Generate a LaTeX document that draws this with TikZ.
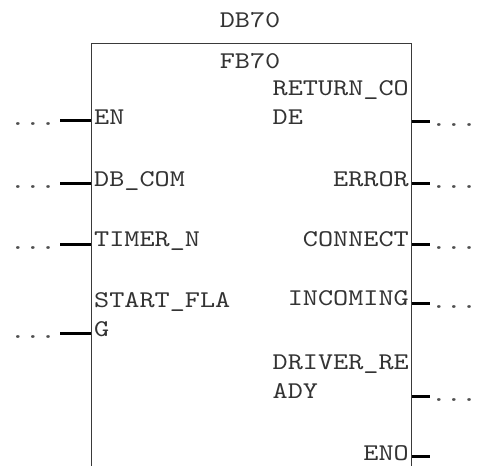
\documentclass[tikz,border=0pt]{standalone}
\usepackage{fontspec}
\setmonofont[FakeStretch=1.2]{lmmono10-regular.otf}
\usepackage{tikz}
\usetikzlibrary{positioning}
\definecolor{BoxGray}{HTML}{3A3A3A}
\definecolor{DotGray}{HTML}{505050}
\begin{document}
\begin{tikzpicture}[x=1pt,y=-1pt,
font=\ttfamily\fontsize{24}{29}\selectfont,
fbbox/.style={draw=BoxGray,line width=1.3pt,minimum width=320pt,minimum height=480pt,inner sep=0pt},
lbl/.style={inner sep=0pt,text=black!80},
wire/.style={line width=3pt,black},
dots/.style={inner sep=0pt,text=DotGray,anchor=base}]
\useasboundingbox (0,0) rectangle (477,466);
\clip (0,0) rectangle (477,466);
\node[fbbox,anchor=north west] (fb) at (91,43) {};
\node[lbl,anchor=base] (db) at (250,27) {DB70};
\node[lbl,anchor=base] (fbname) at (250,68) {FB70};
% inputs
\node[lbl,anchor=base west] (en) at (94,124) {EN};
\node[lbl,anchor=base west] (dbcom) at (94,186) {DB\_COM};
\node[lbl,anchor=base west] (timer) at (94,246) {TIMER\_N};
\node[lbl,anchor=base west,align=left] (start) at (94,336) {START\_FLA\\G};
\coordinate (en-in) at (60,120);
\coordinate (dbcom-in) at (60,183);
\coordinate (timer-in) at (60,244);
\coordinate (start-in) at (60,333);
\node[dots] (en-d) at (33,125) {...};
\node[dots] (dbcom-d) at (33,188) {...};
\node[dots] (timer-d) at (33,249) {...};
\node[dots] (start-d) at (33,338) {...};
\draw[wire] (en-in) -- (en-in -| fb.west);
\draw[wire] (dbcom-in) -- (dbcom-in -| fb.west);
\draw[wire] (timer-in) -- (timer-in -| fb.west);
\draw[wire] (start-in) -- (start-in -| fb.west);
% outputs
\node[lbl,anchor=base east,align=left] (ret) at (409,124) {RETURN\_CO\\DE};
\node[lbl,anchor=base east] (error) at (409,186) {ERROR};
\node[lbl,anchor=base east] (connect) at (409,246) {CONNECT};
\node[lbl,anchor=base east] (incoming) at (409,305) {INCOMING};
\node[lbl,anchor=base east,align=left] (driver) at (409,398) {DRIVER\_RE\\ADY};
\node[lbl,anchor=base east] (eno) at (409,460) {ENO};
\coordinate (ret-out) at (430,121);
\coordinate (error-out) at (430,183);
\coordinate (connect-out) at (430,244);
\coordinate (incoming-out) at (430,303);
\coordinate (driver-out) at (430,396);
\coordinate (eno-out) at (430,456);
\node[dots] (ret-d) at (454,126) {...};
\node[dots] (error-d) at (454,188) {...};
\node[dots] (connect-d) at (454,249) {...};
\node[dots] (incoming-d) at (454,308) {...};
\node[dots] (driver-d) at (454,401) {...};
\draw[wire] (ret-out -| fb.east) -- (ret-out);
\draw[wire] (error-out -| fb.east) -- (error-out);
\draw[wire] (connect-out -| fb.east) -- (connect-out);
\draw[wire] (incoming-out -| fb.east) -- (incoming-out);
\draw[wire] (driver-out -| fb.east) -- (driver-out);
\draw[wire] (eno-out -| fb.east) -- (eno-out);
\end{tikzpicture}
\end{document}
